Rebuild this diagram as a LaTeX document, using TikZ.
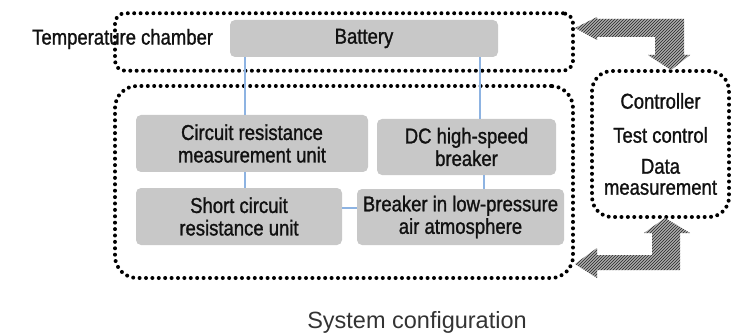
\documentclass[tikz,border=0pt]{standalone}
\usepackage{fontspec}
\usepackage{xcolor}
\usepackage{tikz}
\usetikzlibrary{arrows.meta, patterns, positioning, calc}
\setmainfont{Liberation Sans}
\newfontfamily\narrowfont[FakeStretch=0.86,FakeBold=1.2]{Liberation Sans}
\definecolor{boxgray}{HTML}{C8C8C8}
\definecolor{wireblue}{HTML}{8DB3E2}
\definecolor{inkgray}{HTML}{111111}
\tikzset{
  % Contenitori tratteggiati a punti
  dotbox/.style={draw=black,line width=4pt,line cap=round,dash pattern=on 0pt off 6.4pt,rounded corners=#1},
  dotbox/.default=12pt,
  % Blocchi grigi
  unit/.style={fill=boxgray,rounded corners=5pt,inner sep=0pt,text=inkgray,align=center,
    font=\narrowfont\fontsize{21.5}{22.5}\selectfont},
  label txt/.style={text=inkgray,inner sep=0pt,font=\narrowfont\fontsize{21.5}{22.5}\selectfont},
  % Collegamenti
  wire/.style={wireblue,line width=1.3pt},
  % Frecce larghe tratteggiate
  fatarrow/.style={fill=gray!65,postaction={pattern=north east lines,pattern color=black!85}}
}

\begin{document}
\begin{tikzpicture}[x=1pt,y=-1pt]
\useasboundingbox (0,0) rectangle (731,334);

% Contenitori
\node[dotbox=10pt,minimum width=458pt,minimum height=57.5pt] (chamber) at (344,42) {};
\node[dotbox=22pt,minimum width=458pt,minimum height=192pt] (system) at (344,182) {};
\node[dotbox=20pt,minimum width=137pt,minimum height=146pt] (ctrl) at (660.5,144) {};

% Blocchi
\node[unit,minimum width=268pt,minimum height=37pt] (battery) at (364,38.5) {Battery};
\node[unit,minimum width=232pt,minimum height=57pt] (circuit) at (252,143.5) {Circuit resistance\\measurement unit};
\node[unit,minimum width=179pt,minimum height=56pt] (dcbreak) at (466.5,147) {DC high-speed\\breaker};
\node[unit,minimum width=206pt,minimum height=57pt] (short) at (239,216.5) {Short circuit\\resistance unit};
\node[unit,minimum width=207pt,minimum height=56pt] (lowpress) at (460.5,217) {Breaker in low-pressure\\air atmosphere};

% Testi
\node[label txt,anchor=west] (chlabel) at (32,39) {Temperature chamber};
\node[label txt,align=center,font=\narrowfont\fontsize{21.5}{21}\selectfont] (ctrltext) at (660.5,144)
  {Controller\\[13pt]Test control\\[10pt]Data\\measurement};
\node[text=black!80,inner sep=0pt,font=\fontsize{23.5}{26}\selectfont] (caption) at (417,322) {System configuration};

% Collegamenti
\coordinate (lx) at (245,0);
\coordinate (rx) at (480,0);
\coordinate (rx2) at (484,0);
\coordinate (hy) at (0,208);
\draw[wire] (battery.south -| lx) -- (circuit.north -| lx);
\draw[wire] (circuit.south -| lx) -- (short.north -| lx);
\draw[wire] (battery.south -| rx) -- (dcbreak.north -| rx);
\draw[wire] (dcbreak.south -| rx2) -- (lowpress.north -| rx2);
\draw[wire] (short.east |- hy) -- (lowpress.west |- hy);

% Frecce controllore <-> contenitori
\fill[fatarrow] (575,28) -- (597,17) -- (597,19) -- (684,19) -- (684,55) -- (690,55) -- (671,70)
  -- (648,55) -- (655,55) -- (655,37) -- (597,37) -- (597,40) -- cycle;
\fill[fatarrow] (665,218) -- (690,233) -- (680,233) -- (680,270) -- (597,270) -- (597,278) -- (575,264)
  -- (597,248) -- (597,255) -- (652,255) -- (652,233) -- (644,233) -- cycle;

\end{tikzpicture}
\end{document}
